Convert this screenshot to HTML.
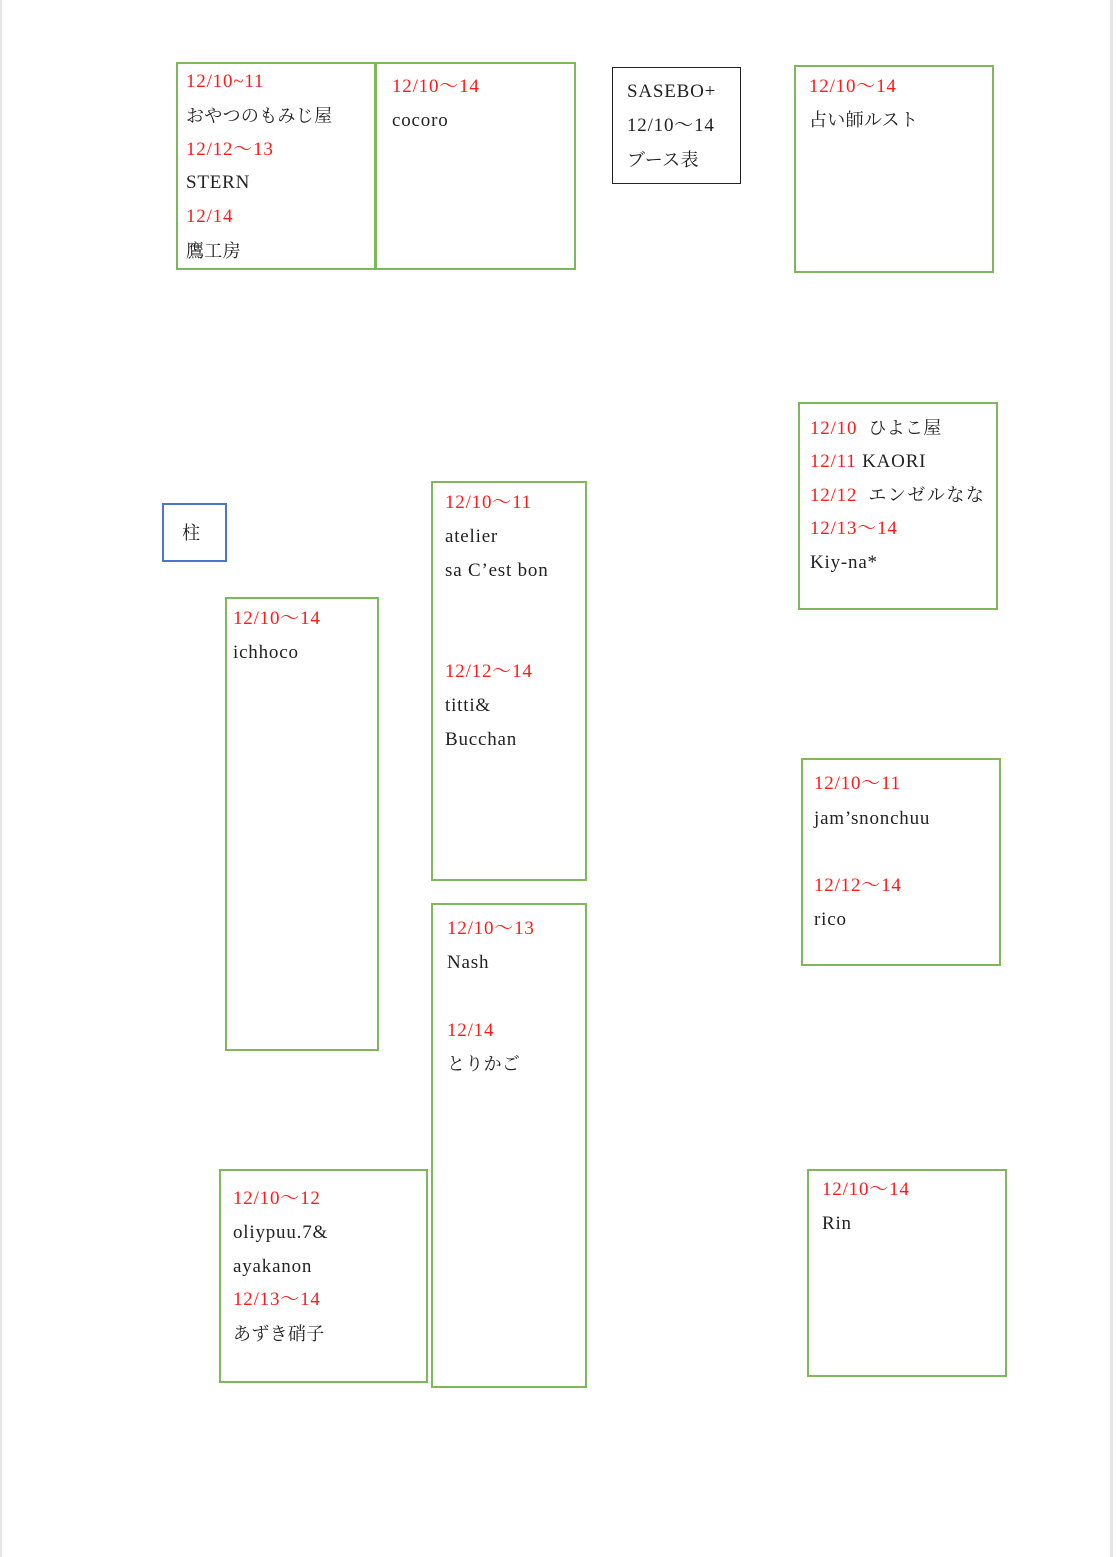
<!DOCTYPE html>
<html><head><meta charset="utf-8"><style>
html,body{margin:0;padding:0;background:#fff}
body{width:1117px;height:1557px;position:relative;overflow:hidden;font-family:"Liberation Serif","Noto Serif CJK SC",serif;font-size:19px;letter-spacing:0.8px;color:#222}
.pg{position:absolute;left:0;top:0;width:1113px;height:1557px;border-left:2px solid #e6e6e6;border-right:3px solid #e6e6e6;box-sizing:border-box}
.b{position:absolute;border:2px solid #7fb85a;box-sizing:border-box}
.t{position:absolute;white-space:nowrap;line-height:22px;height:22px}
.r{color:#ff1a1a}
.j{font-size:18px;letter-spacing:0.3px}
</style></head><body>
<div class="pg"></div>
<div class="b" style="left:176px;top:62px;width:200px;height:208px"></div>
<div class="b" style="left:375px;top:62px;width:201px;height:208px"></div>
<div class="b" style="left:612px;top:67px;width:129px;height:117px;border:1.5px solid #222"></div>
<div class="b" style="left:794px;top:65px;width:200px;height:208px"></div>
<div class="b" style="left:798px;top:402px;width:200px;height:208px"></div>
<div class="b" style="left:162px;top:503px;width:65px;height:59px;border-color:#4a78c8"></div>
<div class="b" style="left:431px;top:481px;width:156px;height:400px"></div>
<div class="b" style="left:225px;top:597px;width:154px;height:454px"></div>
<div class="b" style="left:801px;top:758px;width:200px;height:208px"></div>
<div class="b" style="left:431px;top:903px;width:156px;height:485px"></div>
<div class="b" style="left:219px;top:1169px;width:209px;height:214px"></div>
<div class="b" style="left:807px;top:1169px;width:200px;height:208px"></div>

<div class="t r" style="left:186px;top:71px">12/10~11</div>
<div class="t j" style="left:186px;top:105px">おやつのもみじ屋</div>
<div class="t r" style="left:186px;top:139px">12/12～13</div>
<div class="t" style="left:186px;top:172px">STERN</div>
<div class="t r" style="left:186px;top:206px">12/14</div>
<div class="t j" style="left:186px;top:240px">鷹工房</div>

<div class="t r" style="left:392px;top:76px">12/10～14</div>
<div class="t" style="left:392px;top:110px">cocoro</div>

<div class="t" style="left:627px;top:81px">SASEBO+</div>
<div class="t" style="left:627px;top:115px">12/10～14</div>
<div class="t j" style="left:627px;top:149px">ブース表</div>

<div class="t r" style="left:809px;top:76px">12/10～14</div>
<div class="t j" style="left:809px;top:109px">占い師ルスト</div>

<div class="t" style="left:810px;top:417px"><span class="r">12/10</span>&nbsp; <span class="j">ひよこ屋</span></div>
<div class="t" style="left:810px;top:451px"><span class="r">12/11</span> KAORI</div>
<div class="t" style="left:810px;top:484px"><span class="r">12/12</span>&nbsp; <span class="j" style="letter-spacing:1.5px">エンゼルなな</span></div>
<div class="t r" style="left:810px;top:518px">12/13～14</div>
<div class="t" style="left:810px;top:552px">Kiy-na*</div>

<div class="t j" style="left:182px;top:522px">柱</div>

<div class="t r" style="left:445px;top:492px">12/10～11</div>
<div class="t" style="left:445px;top:526px">atelier</div>
<div class="t" style="left:445px;top:560px">sa C’est bon</div>
<div class="t r" style="left:445px;top:661px">12/12～14</div>
<div class="t" style="left:445px;top:695px">titti&amp;</div>
<div class="t" style="left:445px;top:729px">Bucchan</div>

<div class="t r" style="left:233px;top:608px">12/10～14</div>
<div class="t" style="left:233px;top:642px">ichhoco</div>

<div class="t r" style="left:814px;top:773px">12/10～11</div>
<div class="t" style="left:814px;top:808px">jam’snonchuu</div>
<div class="t r" style="left:814px;top:875px">12/12～14</div>
<div class="t" style="left:814px;top:909px">rico</div>

<div class="t r" style="left:447px;top:918px">12/10～13</div>
<div class="t" style="left:447px;top:952px">Nash</div>
<div class="t r" style="left:447px;top:1020px">12/14</div>
<div class="t j" style="left:447px;top:1053px">とりかご</div>

<div class="t r" style="left:233px;top:1188px">12/10～12</div>
<div class="t" style="left:233px;top:1222px">oliypuu.7&amp;</div>
<div class="t" style="left:233px;top:1256px">ayakanon</div>
<div class="t r" style="left:233px;top:1289px">12/13～14</div>
<div class="t j" style="left:233px;top:1323px">あずき硝子</div>

<div class="t r" style="left:822px;top:1179px">12/10～14</div>
<div class="t" style="left:822px;top:1213px">Rin</div>
</body></html>
